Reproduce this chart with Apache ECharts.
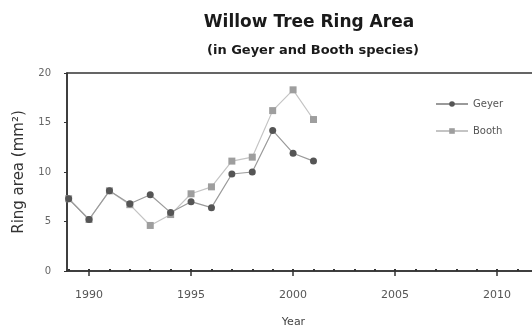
<!DOCTYPE html>
<html>
<head>
<meta charset="utf-8">
<script src="https://cdn.jsdelivr.net/npm/echarts@6/dist/echarts.min.js"></script>
<style>
  html, body { margin: 0; padding: 0; background: #fff; }
  #chart { width: 532px; height: 330px; }
</style>
</head>
<body>
<div id="chart"></div>
<script>
// 数据
const years = [1989, 1990, 1991, 1992, 1993, 1994, 1995, 1996, 1997, 1998, 1999, 2000, 2001]
const geyer = [7.3, 5.2, 8.1, 6.8, 7.7, 5.9, 7.0, 6.4, 9.8, 10.0, 14.2, 11.9, 11.1]
const booth = [7.3, 5.2, 8.1, 6.7, 4.6, 5.7, 7.8, 8.5, 11.1, 11.5, 16.2, 18.3, 15.3]
const majorTicks = [1990, 1995, 2000, 2005, 2010]
const minorTicks = [1989, 1990, 1991, 1992, 1993, 1994, 1995, 1996, 1997, 1998, 1999, 2000,
  2001, 2002, 2003, 2004, 2005, 2006, 2007, 2008, 2009, 2010, 2011, 2012]

const font = '"DejaVu Sans", sans-serif'
const pair = (xs, ys) => xs.map((x, i) => [x, ys[i]])

const chart = echarts.init(document.getElementById('chart'), null, { renderer: 'canvas' })

const xBase = {
  type: 'value',
  min: 1988.92,
  max: 2012.2,
  splitLine: { show: false }
}

chart.setOption({
  backgroundColor: '#fff',
  animation: false,
  title: [
    {
      text: 'Willow Tree Ring Area',
      left: 304,
      top: 9,
      textAlign: 'center',
      textStyle: { fontFamily: font, fontWeight: 'bold', fontSize: 17, color: '#1a1a1a' }
    },
    {
      text: '(in Geyer and Booth species)',
      left: 308,
      top: 39,
      textAlign: 'center',
      textStyle: { fontFamily: font, fontWeight: 'bold', fontSize: 13, color: '#1a1a1a' }
    }
  ],
  legend: {
    orient: 'vertical',
    left: 430,
    top: 94,
    itemWidth: 32,
    itemHeight: 7,
    itemGap: 17,
    textStyle: { fontFamily: font, fontSize: 10, color: '#555' },
    data: ['Geyer', 'Booth']
  },
  grid: {
    left: 67,
    right: -10,
    top: 73,
    bottom: 59,
    outerBoundsMode: 'none',
    containLabel: false,
    show: true,
    borderColor: '#333',
    borderWidth: 1.5
  },
  xAxis: [
    {
      ...xBase,
      name: 'Year',
      nameLocation: 'middle',
      nameGap: 46,
      nameTextStyle: { fontFamily: font, fontSize: 11, color: '#444', padding: [0, 22, 0, 0] },
      axisLine: { show: true, lineStyle: { color: '#333', width: 1.5 } },
      axisTick: { show: true, length: 5, customValues: majorTicks, lineStyle: { color: '#333', width: 1.5 } },
      axisLabel: {
        customValues: majorTicks,
        formatter: v => String(v),
        margin: 19,
        fontFamily: font,
        fontSize: 11,
        color: '#555'
      }
    },
    {
      ...xBase,
      position: 'bottom',
      axisLine: { show: false },
      axisTick: { show: true, inside: true, length: 2, customValues: minorTicks, lineStyle: { color: '#333', width: 2 } },
      axisLabel: { show: false }
    }
  ],
  yAxis: {
    type: 'value',
    min: 0,
    max: 20,
    interval: 5,
    name: 'Ring area (mm²)',
    nameLocation: 'middle',
    nameGap: 40,
    nameTextStyle: { fontFamily: font, fontSize: 15, color: '#333' },
    axisLine: { show: true, lineStyle: { color: '#333', width: 1.5 } },
    axisTick: { show: true, length: 3, lineStyle: { color: '#333' } },
    axisLabel: { fontFamily: font, fontSize: 10, color: '#666', margin: 16 },
    splitLine: { show: false }
  },
  series: [
    {
      name: 'Booth',
      type: 'line',
      symbol: 'rect',
      symbolSize: 7,
      lineStyle: { color: '#c4c4c4', width: 1.2 },
      itemStyle: { color: '#9e9e9e' },
      data: pair(years, booth)
    },
    {
      name: 'Geyer',
      type: 'line',
      symbol: 'circle',
      symbolSize: 7,
      lineStyle: { color: '#9a9a9a', width: 1.2 },
      itemStyle: { color: '#555' },
      data: pair(years, geyer)
    }
  ]
})
</script>
</body>
</html>
